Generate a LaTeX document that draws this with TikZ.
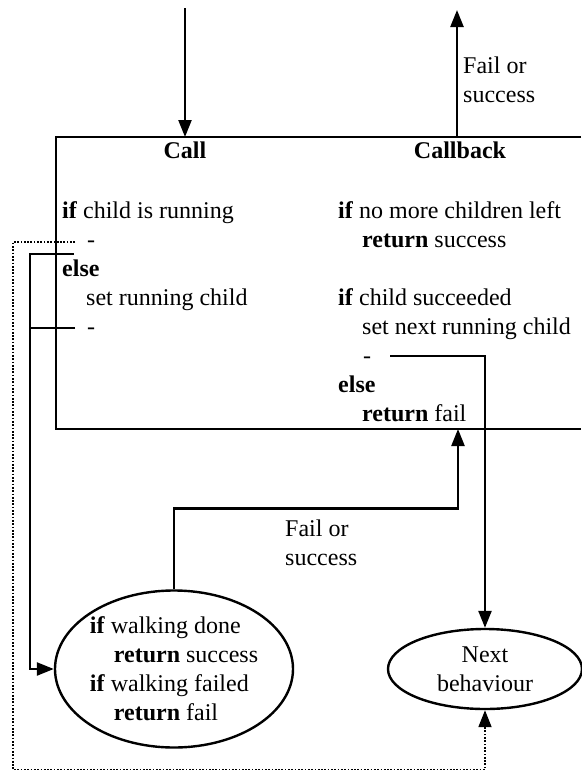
\documentclass[tikz,border=0pt]{standalone}
\usepackage{fontspec}
\setmainfont{Liberation Serif}
\usetikzlibrary{arrows.meta,shapes.geometric}

\begin{document}
\begin{tikzpicture}[x=1pt,y=-1pt,
  every node/.style={font=\fontsize{24}{29}\selectfont, inner sep=0pt},
  txt/.style={anchor=base west},
  ttl/.style={anchor=base, font=\fontsize{24}{29}\selectfont\bfseries},
  lbl/.style={anchor=west, align=left},
  link/.style={line width=2.4pt},
  flow/.style={link, -{Triangle[length=17pt,width=13pt]}},
  dots/.style={line width=1.8pt, dash pattern=on 1.7pt off 1.6pt},
  oval/.style={draw, ellipse, line width=2.4pt}]

\useasboundingbox (0,0) rectangle (581,771);

% sequence node frame (open to the right)
\coordinate (boxTR) at (581,137);
\coordinate (boxTL) at (56,137);
\coordinate (boxBL) at (56,429);
\coordinate (boxBR) at (581,429);
\draw[link] (boxTR) -- (boxTL) -- (boxBL) -- (boxBR);

% column titles
\node[ttl] (call) at (185,158) {Call};
\node[ttl] (callback) at (460,158) {Callback};

% Call column
\node[txt] (c1) at (62,218) {\textbf{if} child is running};
\node[txt] (c2) at (87,247) {-};
\node[txt] (c3) at (62,276) {\textbf{else}};
\node[txt] (c4) at (86,305) {set running child};
\node[txt] (c5) at (87,334) {-};

% Callback column
\node[txt] (k1) at (338,218) {\textbf{if} no more children left};
\node[txt] (k2) at (362,247) {\textbf{return} success};
\node[txt] (k3) at (338,305) {\textbf{if} child succeeded};
\node[txt] (k4) at (362,334) {set next running child};
\node[txt] (k5) at (363,363) {-};
\node[txt] (k6) at (338,392) {\textbf{else}};
\node[txt] (k7) at (362,421) {\textbf{return} fail};

% leaf and next behaviours
\node[oval, align=left, minimum width=238pt, minimum height=157pt] (walk) at (174,669)
  {\textbf{if} walking done\\\hspace*{1em}\textbf{return} success\\\textbf{if} walking failed\\\hspace*{1em}\textbf{return} fail};
\node[oval, align=center, minimum width=194pt, minimum height=80pt] (next) at (485,669)
  {Next\\behaviour};

% result labels
\node[lbl] (resTop) at (463,80) {Fail or\\success};
\node[lbl] (resLeaf) at (285,543) {Fail or\\success};

% entry and exit of the sequence
\coordinate (src) at (185,8);
\coordinate (callIn) at (185,137);
\coordinate (cbOut) at (457,137);
\coordinate (parent) at (457,10);
\draw[flow] (src) -- (callIn);
\draw[flow] (cbOut) -- (parent);

% connectors leaving the dashes
\coordinate (runA) at (75,242);
\coordinate (runB) at (74,254);
\coordinate (runC) at (75,328);
\coordinate (nextA) at (390,356);
\coordinate (cbIn) at (458,429);

\draw[dots, -{Triangle[length=17pt,width=13pt]}] (runA) -- (13,242) -- (13,769.5) -| (next.south);
\draw[flow] (runB) -- (30,254) |- (walk.west);
\draw[link] (runC) -- (30,328);
\draw[flow] (nextA) -| (next.north);
\draw[flow] (walk.north) -- ++(0,-81) -| (cbIn);

\end{tikzpicture}
\end{document}
